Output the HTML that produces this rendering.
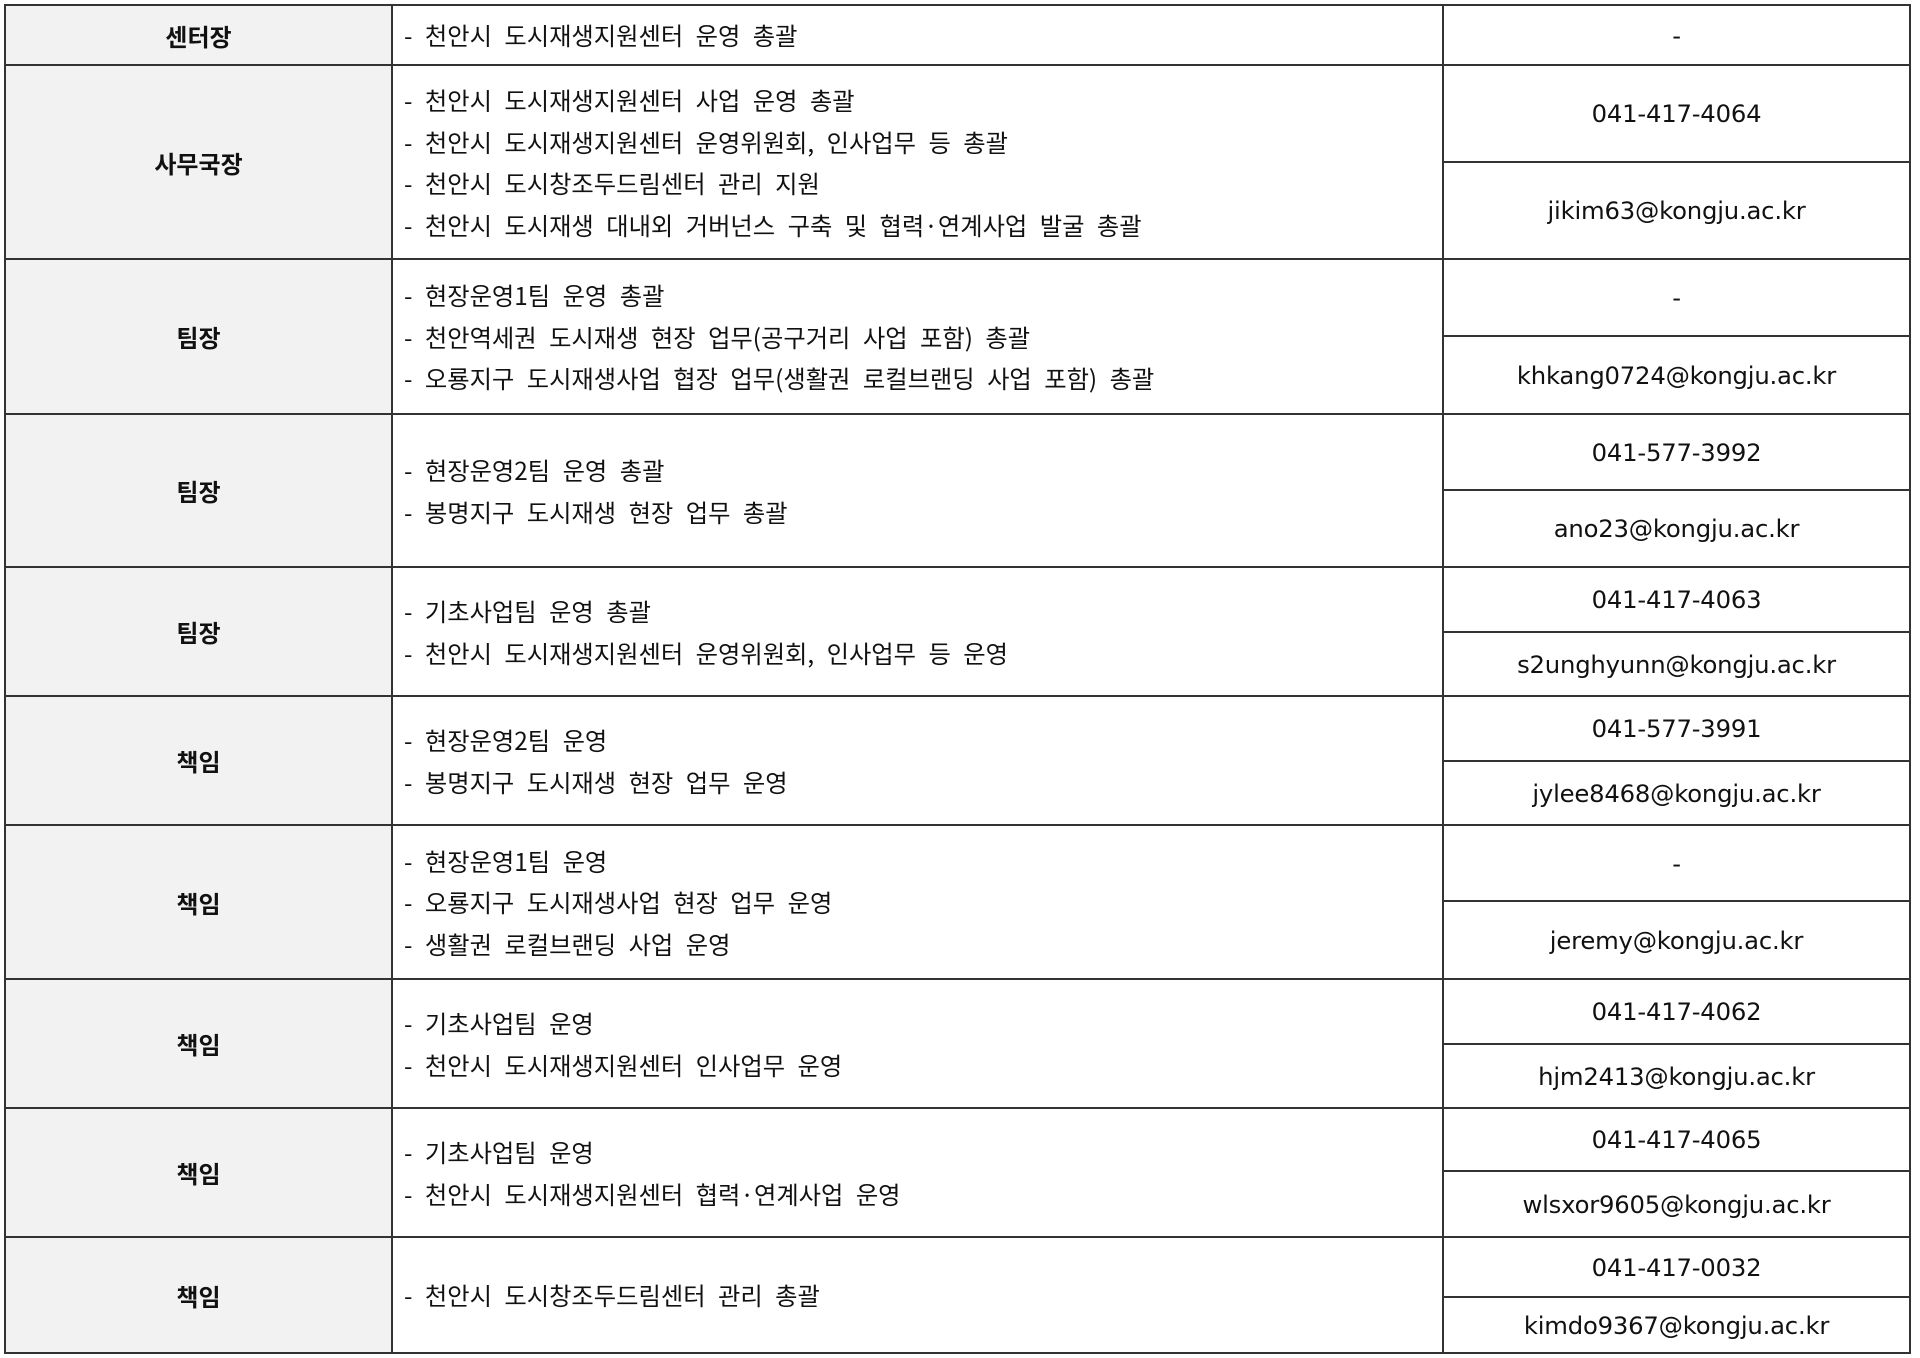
<!DOCTYPE html>
<html><head><meta charset="utf-8"><style>
body{margin:0;width:1920px;height:1358px;background:#fff;position:relative;overflow:hidden;font-family:"Liberation Sans","Noto Sans CJK KR",sans-serif;color:#111}
.c{position:absolute;box-sizing:border-box;display:flex;align-items:center;}
.h{background:#f2f2f2;justify-content:center;font-weight:bold;font-size:24px}
.d{font-family:"Noto Sans CJK KR",sans-serif;font-size:24.3px;line-height:41.5px;padding-left:12px;flex-direction:column;align-items:flex-start;justify-content:center;word-spacing:7px}
.d div{white-space:nowrap}
.x{justify-content:center;font-size:24.3px;font-family:"DejaVu Sans","Liberation Sans",sans-serif;letter-spacing:-0.2px}
.l{position:absolute;background:#333}
</style></head><body>
<div id="t"></div>
<script>
const rows=[5,65,259,414,567,696,825,979,1108,1237,1353];
const splits=[null,162,336,490,632,761,901,1044,1171,1297];
const titles=['센터장','사무국장','팀장','팀장','팀장','책임','책임','책임','책임','책임'];
const duties=[
['- 천안시 도시재생지원센터 운영 총괄'],
['- 천안시 도시재생지원센터 사업 운영 총괄','- 천안시 도시재생지원센터 운영위원회, 인사업무 등 총괄','- 천안시 도시창조두드림센터 관리 지원','- 천안시 도시재생 대내외 거버넌스 구축 및 협력·연계사업 발굴 총괄'],
['- 현장운영1팀 운영 총괄','- 천안역세권 도시재생 현장 업무(공구거리 사업 포함) 총괄','- 오룡지구 도시재생사업 협장 업무(생활권 로컬브랜딩 사업 포함) 총괄'],
['- 현장운영2팀 운영 총괄','- 봉명지구 도시재생 현장 업무 총괄'],
['- 기초사업팀 운영 총괄','- 천안시 도시재생지원센터 운영위원회, 인사업무 등 운영'],
['- 현장운영2팀 운영','- 봉명지구 도시재생 현장 업무 운영'],
['- 현장운영1팀 운영','- 오룡지구 도시재생사업 현장 업무 운영','- 생활권 로컬브랜딩 사업 운영'],
['- 기초사업팀 운영','- 천안시 도시재생지원센터 인사업무 운영'],
['- 기초사업팀 운영','- 천안시 도시재생지원센터 협력·연계사업 운영'],
['- 천안시 도시창조두드림센터 관리 총괄']];
const phones=['-','041-417-4064','-','041-577-3992','041-417-4063','041-577-3991','-','041-417-4062','041-417-4065','041-417-0032'];
const emails=[null,'jikim63@kongju.ac.kr','khkang0724@kongju.ac.kr','ano23@kongju.ac.kr','s2unghyunn@kongju.ac.kr','jylee8468@kongju.ac.kr','jeremy@kongju.ac.kr','hjm2413@kongju.ac.kr','wlsxor9605@kongju.ac.kr','kimdo9367@kongju.ac.kr'];
const X0=5,X1=392,X2=1443,X3=1910;
const t=document.getElementById('t');
function cell(cls,x,y,w,h){const e=document.createElement('div');e.className='c '+cls;e.style.left=x+'px';e.style.top=y+'px';e.style.width=w+'px';e.style.height=h+'px';t.appendChild(e);return e;}
function line(x,y,w,h){const e=document.createElement('div');e.className='l';e.style.left=x+'px';e.style.top=y+'px';e.style.width=w+'px';e.style.height=h+'px';


t.appendChild(e);}
for(let i=0;i<titles.length;i++){
const y=rows[i],h=rows[i+1]-rows[i];
const a=cell('h',X0,y,X1-X0,h);a.textContent=titles[i];


const b=cell('d',X1,y,X2-X1,h);


duties[i].forEach(s=>{const d=document.createElement('div');d.textContent=s;


b.appendChild(d);});
if(splits[i]==null){const p=cell('x',X2,y,X3-X2,h);p.textContent=phones[i];

}
else{const s=splits[i];
const p=cell('x',X2,y,X3-X2,s-y);p.textContent=phones[i];


const m=cell('x',X2,s,X3-X2,rows[i+1]-s);m.textContent=emails[i];


line(X2,s-1,X3-X2,2);}
}
rows.forEach(y=>line(X0-1,y-1,X3-X0+2,2));
[X0,X1,X2,X3].forEach(x=>line(x-1,rows[0]-1,2,rows[rows.length-1]-rows[0]+2));
</script>
</body></html>
